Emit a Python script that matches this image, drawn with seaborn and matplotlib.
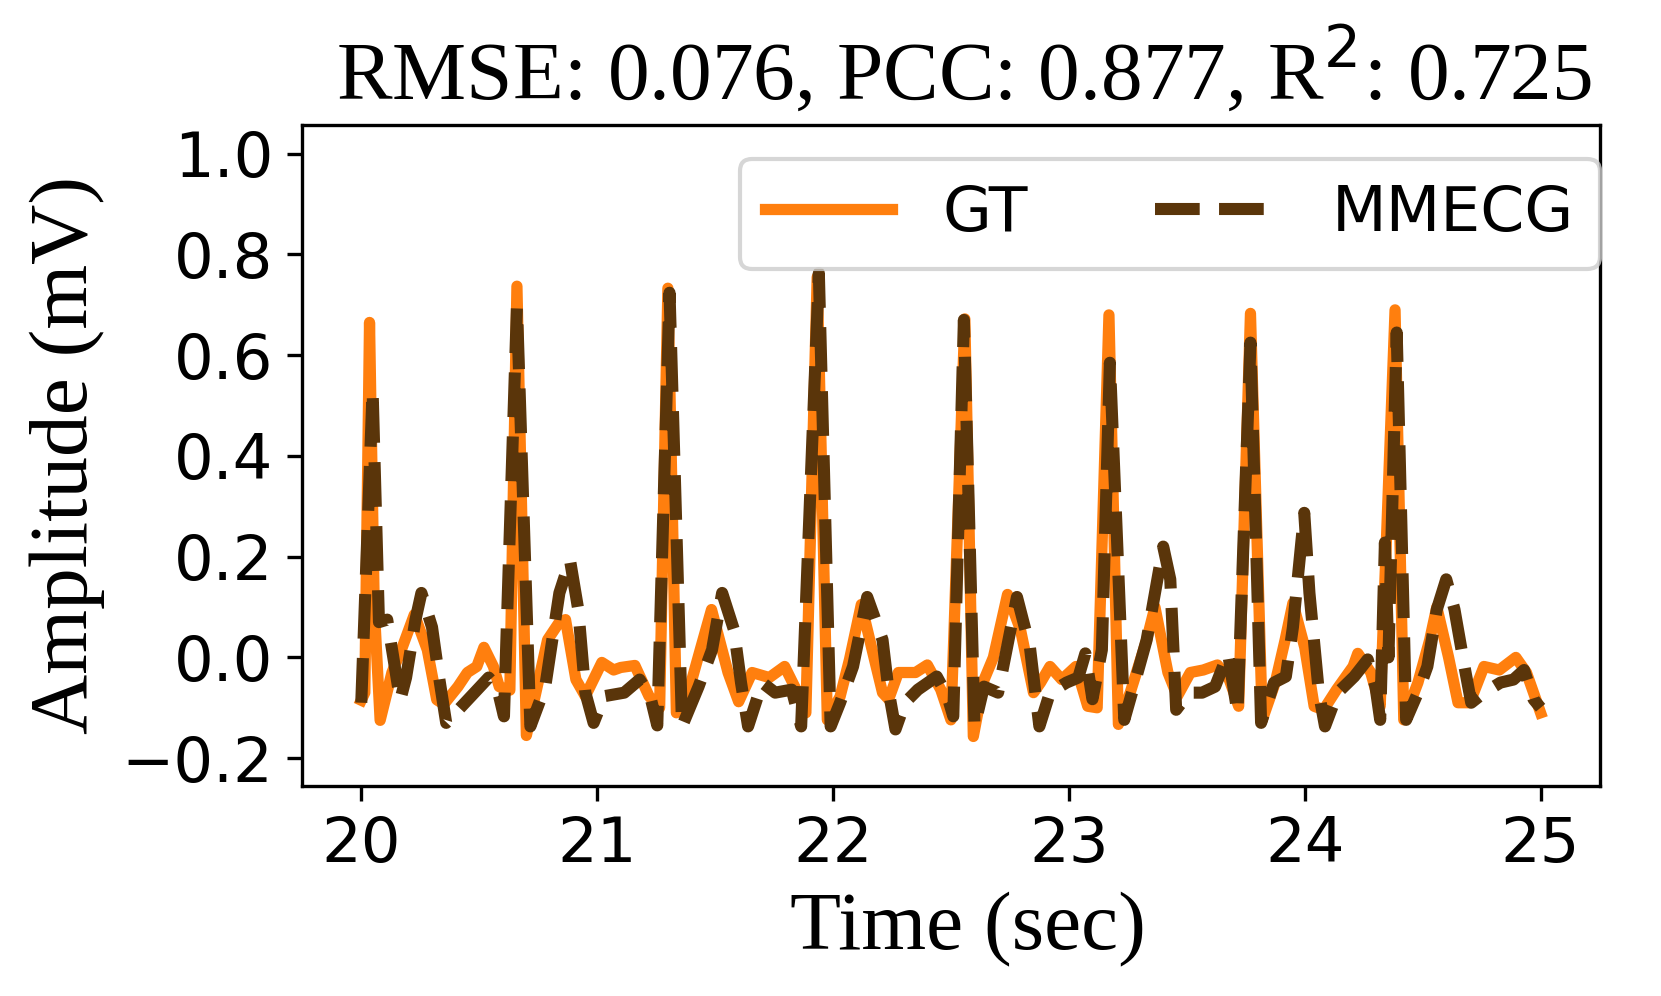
import numpy as np
import pandas as pd
import matplotlib
matplotlib.use("Agg")
import matplotlib.pyplot as plt
import seaborn as sns

# ---- data ----
gt_time = [20.00, 20.015, 20.035, 20.055, 20.08, 20.13, 20.17, 20.225, 20.28, 20.32,
           20.35, 20.41, 20.45, 20.49, 20.52, 20.56, 20.585, 20.63, 20.66, 20.70,
           20.745, 20.79, 20.84, 20.866, 20.91, 20.95, 21.02, 21.07, 21.10, 21.16,
           21.22, 21.265, 21.30, 21.336, 21.39, 21.44, 21.485, 21.555, 21.60, 21.657,
           21.73, 21.795, 21.85, 21.885, 21.933, 21.976, 22.03, 22.07, 22.12, 22.166,
           22.21, 22.236, 22.277, 22.35, 22.40, 22.457, 22.50, 22.559, 22.595, 22.64,
           22.68, 22.74, 22.795, 22.85, 22.88, 22.92, 22.97, 23.03, 23.08, 23.12,
           23.17, 23.21, 23.26, 23.33, 23.365, 23.42, 23.46, 23.515, 23.57, 23.63,
           23.68, 23.72, 23.77, 23.82, 23.875, 23.917, 23.95, 24.00, 24.04, 24.08,
           24.135, 24.205, 24.225, 24.28, 24.32, 24.383, 24.42, 24.48, 24.53, 24.56,
           24.61, 24.65, 24.70, 24.76, 24.825, 24.895, 24.94, 25.00]
gt_amp = [-0.085, -0.07, 0.665, 0.10, -0.125, -0.03, 0.015, 0.085, 0.015, -0.084,
          -0.093, -0.058, -0.03, -0.018, 0.02, -0.018, -0.058, -0.065, 0.737, -0.155,
          -0.06, 0.035, 0.07, 0.075, -0.044, -0.077, -0.01, -0.025, -0.02, -0.016,
          -0.077, -0.10, 0.733, -0.11, -0.064, 0.02, 0.095, -0.03, -0.088, -0.03,
          -0.04, -0.018, -0.07, -0.11, 0.755, -0.124, -0.078, -0.004, 0.105, 0.015,
          -0.07, -0.083, -0.03, -0.03, -0.015, -0.064, -0.124, 0.672, -0.157, -0.045,
          0.0, 0.125, 0.055, -0.07, -0.05, -0.018, -0.044, -0.018, -0.097, -0.10,
          0.68, -0.133, -0.07, 0.035, 0.10, -0.03, -0.077, -0.03, -0.025, -0.015,
          -0.044, -0.097, 0.683, -0.124, -0.05, 0.035, 0.108, 0.02, -0.097, -0.104,
          -0.064, -0.018, 0.008, -0.03, -0.097, 0.69, -0.124, -0.05, 0.035, 0.10,
          0.0, -0.09, -0.09, -0.018, -0.025, 0.0, -0.03, -0.11]

pred_time = [20.00, 20.048, 20.075, 20.11, 20.165, 20.19, 20.23, 20.255, 20.30, 20.33,
             20.36, 20.44, 20.48, 20.54, 20.575, 20.605, 20.66, 20.717, 20.78, 20.84,
             20.885, 20.92, 20.95, 20.985, 21.03, 21.115, 21.18, 21.225, 21.255, 21.307,
             21.36, 21.43, 21.487, 21.53, 21.58, 21.61, 21.64, 21.70, 21.755, 21.825,
             21.865, 21.94, 21.99, 22.03, 22.085, 22.145, 22.21, 22.235, 22.265, 22.305,
             22.36, 22.44, 22.485, 22.51, 22.555, 22.60, 22.64, 22.70, 22.78, 22.835,
             22.875, 22.92, 22.99, 23.04, 23.07, 23.10, 23.14, 23.174, 23.235, 23.275,
             23.33, 23.40, 23.43, 23.455, 23.51, 23.565, 23.62, 23.675, 23.715, 23.77,
             23.815, 23.87, 23.92, 23.95, 23.998, 24.02, 24.06, 24.086, 24.14, 24.21,
             24.267, 24.30, 24.32, 24.34, 24.355, 24.39, 24.43, 24.48, 24.52, 24.56,
             24.60, 24.635, 24.68, 24.706, 24.76, 24.83, 24.885, 24.93, 24.97, 25.00]
pred_amp = [-0.09, 0.53, 0.07, 0.075, -0.085, -0.04, 0.075, 0.128, 0.06, -0.04,
            -0.13, -0.09, -0.07, -0.04, -0.058, -0.117, 0.696, -0.137, -0.058, 0.128,
            0.193, 0.095, -0.07, -0.13, -0.077, -0.07, -0.044, -0.077, -0.135, 0.724,
            -0.137, -0.058, 0.015, 0.128, 0.055, -0.05, -0.137, -0.05, -0.07, -0.064,
            -0.137, 0.763, -0.137, -0.09, -0.018, 0.12, 0.035, -0.064, -0.143, -0.09,
            -0.064, -0.038, -0.077, -0.117, 0.67, -0.137, -0.058, -0.07, 0.12, 0.02,
            -0.137, -0.07, -0.05, -0.04, 0.008, -0.083, 0.015, 0.585, -0.124, -0.058,
            0.035, 0.22, 0.155, -0.104, -0.07, -0.07, -0.058, 0.008, -0.11, 0.625,
            -0.13, -0.05, -0.038, 0.06, 0.287, 0.128, -0.07, -0.137, -0.07, -0.038,
            -0.004, -0.058, -0.124, 0.228, 0.0, 0.645, -0.124, -0.07, -0.018, 0.095,
            0.155, 0.095, -0.025, -0.09, -0.07, -0.05, -0.044, -0.025, -0.083, -0.10]

series_labels = ["GT", "MMECG"]
x_ticks = [20, 21, 22, 23, 24, 25]
y_ticks = [-0.2, 0.0, 0.2, 0.4, 0.6, 0.8, 1.0]
title_text = "RMSE: 0.076, PCC: 0.877, R$^2$: 0.725"
x_label = "Time (sec)"
y_label = "Amplitude (mV)"

# ---- plotting ----
plt.rcParams["font.family"] = ["DejaVu Sans"]
fig = plt.figure(figsize=(1661 / 300, 996 / 300), dpi=300)
ax = fig.add_axes([0.182, 0.211, 0.781, 0.6635])

df_gt = pd.DataFrame({"t": gt_time, "v": gt_amp})
df_pr = pd.DataFrame({"t": pred_time, "v": pred_amp})

sns.lineplot(data=df_gt, x="t", y="v", ax=ax, color="#ff7f0e", linewidth=2.7,
             label=series_labels[0], zorder=2)
sns.lineplot(data=df_pr, x="t", y="v", ax=ax, color="#5a350a", linewidth=2.9,
             linestyle="--", label=series_labels[1], zorder=3)

ax.set_xlim(19.75, 25.25)
ax.set_ylim(-0.255, 1.057)
ax.set_xticks(x_ticks)
ax.set_xticklabels([str(v) for v in x_ticks])
ax.set_yticks(y_ticks)
ax.tick_params(labelsize=15)

serif = "Liberation Serif"
ax.set_title(title_text, fontsize=20, family=[serif, "DejaVu Sans"], pad=6, x=0.51)
ax.set_xlabel(x_label, fontsize=20, family=serif, x=0.513)
ax.set_ylabel(y_label, fontsize=20, family=serif)

ax.legend(loc="upper right", bbox_to_anchor=(1.0, 0.949), borderaxespad=0,
          ncol=2, fontsize=15.2, handlelength=2.0, columnspacing=2.0)

fig.savefig("out.png", dpi=300)
